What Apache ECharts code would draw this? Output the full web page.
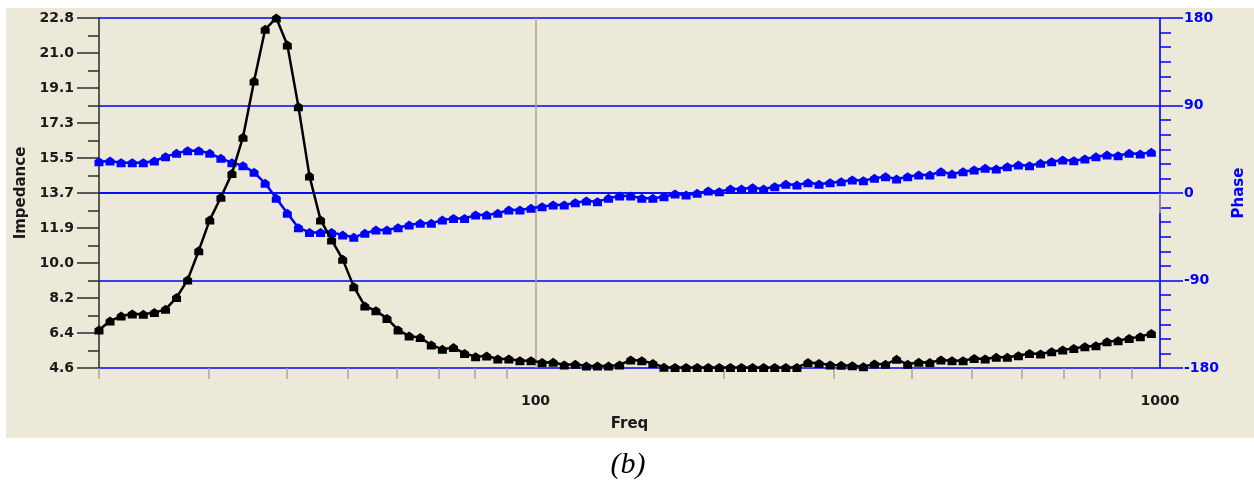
<!DOCTYPE html>
<html>
<head>
<meta charset="utf-8">
<script src="https://cdn.jsdelivr.net/npm/echarts@6/dist/echarts.min.js"></script>
<style>
html,body{margin:0;padding:0;background:#fff;}
#chart{width:1254px;height:483px;}
</style>
</head>
<body>
<div id="chart"></div>
<script>
// ---- data ----
const FREQ = [
  20.00, 20.83, 21.70, 22.61, 23.55, 24.53, 25.56, 26.62, 27.73, 28.89,
  30.09, 31.35, 32.65, 34.01, 35.43, 36.91, 38.45, 40.05, 41.72, 43.46,
  45.27, 47.15, 49.12, 51.17, 53.30, 55.52, 57.84, 60.25, 62.76, 65.38,
  68.10, 70.94, 73.90, 76.98, 80.19, 83.53, 87.02, 90.64, 94.42, 98.36,
  102.46, 106.73, 111.18, 115.81, 120.64, 125.67, 130.91, 136.37, 142.06, 147.98,
  154.15, 160.58, 167.27, 174.25, 181.51, 189.08, 196.96, 205.18, 213.73, 222.64,
  231.93, 241.60, 251.67, 262.17, 273.10, 284.48, 296.34, 308.70, 321.57, 334.98,
  348.95, 363.50, 378.65, 394.44, 410.89, 428.02, 445.87, 464.46, 483.83, 504.00,
  524.9, 546.8, 569.6, 593.3, 618.1, 643.8, 670.7, 698.6, 727.8, 758.1,
  789.7, 822.6, 856.9, 892.6, 929.9, 968.6
];
const IMPEDANCE = [
  6.58, 7.04, 7.30, 7.41, 7.39, 7.48, 7.65, 8.26, 9.18, 10.70,
  12.30, 13.48, 14.72, 16.60, 19.52, 22.21, 22.80, 21.40, 18.19, 14.58,
  12.30, 11.26, 10.25, 8.83, 7.82, 7.58, 7.18, 6.58, 6.26, 6.18,
  5.80, 5.57, 5.66, 5.36, 5.19, 5.22, 5.07, 5.07, 4.98, 4.98,
  4.89, 4.90, 4.76, 4.79, 4.70, 4.70, 4.70, 4.76, 5.02, 4.98,
  4.84, 4.64, 4.63, 4.63, 4.63, 4.63, 4.63, 4.63, 4.63, 4.63,
  4.63, 4.63, 4.63, 4.63, 4.88, 4.84, 4.76, 4.74, 4.72, 4.67,
  4.81, 4.79, 5.05, 4.79, 4.90, 4.88, 5.02, 4.98, 4.98, 5.10,
  5.07, 5.16, 5.16, 5.24, 5.36, 5.33, 5.45, 5.54, 5.62, 5.71,
  5.76, 5.97, 6.02, 6.14, 6.23, 6.40
];
const PHASE = [
  32.2, 32.9, 31.2, 31.2, 31.2, 32.9, 37.4, 40.8, 43.5, 43.5,
  40.8, 35.7, 31.2, 28.1, 21.3, 10.0, -5.5, -20.9, -35.7, -40.5,
  -40.5, -40.5, -43.2, -45.6, -41.5, -38.1, -38.1, -35.7, -32.9, -31.2,
  -31.2, -27.8, -26.1, -26.1, -22.6, -22.6, -20.9, -17.5, -17.5, -15.8,
  -14.1, -12.3, -12.3, -10.0, -8.2, -8.9, -5.5, -3.1, -3.1, -5.5,
  -5.5, -3.8, -1.0, -2.1, -0.3, 2.1, 1.4, 4.1, 4.1, 5.5,
  4.1, 6.5, 8.9, 8.2, 10.6, 8.9, 10.6, 11.6, 13.4, 12.7,
  15.1, 16.8, 14.4, 16.8, 18.5, 18.5, 21.9, 19.5, 21.9, 23.7,
  25.4, 24.7, 27.1, 28.8, 28.1, 30.5, 32.2, 33.9, 33.2, 35.0,
  37.3, 39.1, 38.4, 40.8, 40.1, 41.9
];
const IMP_MIN = 4.6, IMP_MAX = 22.8;
const IMP_TICK_LABELS = ["4.6","6.4","8.2","10.0","11.9","13.7","15.5","17.3","19.1","21.0","22.8"];
const PHASE_MIN = -180, PHASE_MAX = 180, PHASE_STEP = 90;
const FREQ_MIN = 20, FREQ_MAX = 1000;
const FREQ_MAJOR = [100, 1000];
const FREQ_MINOR = [20,30,40,50,60,70,80,90,200,300,400,500,600,700,800,900];

// ---- derived tick positions ----
const nImp = IMP_TICK_LABELS.length - 1;
const impMajor = IMP_TICK_LABELS.map((_, i) => Number((IMP_MIN + i * (IMP_MAX - IMP_MIN) / nImp).toFixed(4)));
const impMinor = [];
for (let i = 0; i < nImp; i++) impMinor.push(Number(((impMajor[i] + impMajor[i + 1]) / 2).toFixed(4)));

const BLUE = '#0000ff';
const FONT = 'DejaVu Sans';
const HOUSE = 'path://M0,3.5L5,0L10,3.5L10,10L0,10Z';

const chart = echarts.init(document.getElementById('chart'), null, {renderer: 'canvas'});
chart.setOption({
  backgroundColor: '#ffffff',
  animation: false,
  graphic: [
    {type: 'rect', z: -10, silent: true, shape: {x: 6, y: 8, width: 1248, height: 430}, style: {fill: '#ECE9D8'}},
    {type: 'text', silent: true, style: {text: '(b)', x: 628, y: 465, font: 'italic 30px "Liberation Serif"', textAlign: 'center', textVerticalAlign: 'middle', fill: '#000'}}
  ],
  grid: {left: 99, right: 94, top: 18, bottom: 115, containLabel: false, outerBoundsMode: 'none'},
  xAxis: [
    {
      type: 'log', logBase: 10, min: FREQ_MIN, max: FREQ_MAX, position: 'bottom',
      name: 'Freq', nameLocation: 'middle', nameGap: 49,
      nameTextStyle: {fontFamily: FONT, fontWeight: 'bold', fontSize: 15, color: '#1a1a1a'},
      axisLine: {show: true, lineStyle: {color: BLUE, width: 1.5}},
      axisTick: {show: true, customValues: FREQ_MAJOR, length: 20, lineStyle: {color: '#a8a59a', width: 1.5}},
      axisLabel: {show: true, customValues: FREQ_MAJOR, margin: 26, fontFamily: FONT, fontWeight: 'bold', fontSize: 14, color: '#1a1a1a', formatter: v => String(Math.round(v))},
      splitLine: {show: true, lineStyle: {color: '#a8a59a', width: 1.5}},
      minorTick: {show: false}, minorSplitLine: {show: false}
    },
    {
      type: 'log', logBase: 10, min: FREQ_MIN, max: FREQ_MAX, position: 'bottom',
      axisLine: {show: false},
      axisTick: {show: true, customValues: FREQ_MINOR, length: 11, lineStyle: {color: '#a8a59a', width: 1.5}},
      axisLabel: {show: false},
      splitLine: {show: false}
    }
  ],
  yAxis: [
    {
      type: 'value', position: 'left', min: IMP_MIN, max: IMP_MAX,
      name: 'Impedance', nameLocation: 'middle', nameGap: 69, nameRotate: 90,
      nameTextStyle: {fontFamily: FONT, fontWeight: 'bold', fontSize: 15, color: '#1a1a1a'},
      axisLine: {show: true, lineStyle: {color: '#2b2b2b', width: 1.5}},
      axisTick: {show: true, customValues: impMajor, length: 22, lineStyle: {color: '#2b2b2b', width: 1.5}},
      axisLabel: {
        show: true, customValues: impMajor, margin: 25, fontFamily: FONT, fontWeight: 'bold', fontSize: 14, color: '#1a1a1a',
        formatter: v => {
          let best = 0;
          impMajor.forEach((p, i) => { if (Math.abs(p - v) < Math.abs(impMajor[best] - v)) best = i; });
          return IMP_TICK_LABELS[best];
        }
      },
      splitLine: {show: false}
    },
    {
      type: 'value', position: 'left', min: IMP_MIN, max: IMP_MAX,
      axisLine: {show: false},
      axisTick: {show: true, customValues: impMinor, length: 11, lineStyle: {color: '#2b2b2b', width: 1.5}},
      axisLabel: {show: false},
      splitLine: {show: false}
    },
    {
      type: 'value', position: 'right', min: PHASE_MIN, max: PHASE_MAX, interval: PHASE_STEP,
      name: 'Phase', nameLocation: 'middle', nameGap: 72, nameRotate: 90,
      nameTextStyle: {fontFamily: FONT, fontWeight: 'bold', fontSize: 15, color: BLUE},
      axisLine: {show: true, lineStyle: {color: BLUE, width: 1.5}},
      axisTick: {show: true, length: 23, lineStyle: {color: BLUE, width: 1.5}},
      minorTick: {show: true, splitNumber: 6, length: 11, lineStyle: {color: BLUE, width: 1.5}},
      axisLabel: {show: true, margin: 24, fontFamily: FONT, fontWeight: 'bold', fontSize: 14, color: BLUE},
      splitLine: {show: true, lineStyle: {color: BLUE, width: 1.5}}
    }
  ],
  series: [
    {
      name: 'Phase', type: 'line', xAxisIndex: 0, yAxisIndex: 2,
      data: FREQ.map((f, i) => [f, PHASE[i]]),
      symbol: HOUSE, symbolSize: [9, 9], showAllSymbol: true,
      lineStyle: {color: BLUE, width: 2.5}, itemStyle: {color: BLUE},
      z: 3
    },
    {
      name: 'Impedance', type: 'line', xAxisIndex: 0, yAxisIndex: 0,
      data: FREQ.map((f, i) => [f, IMPEDANCE[i]]),
      symbol: HOUSE, symbolSize: [9, 9], showAllSymbol: true,
      lineStyle: {color: '#000', width: 2.5}, itemStyle: {color: '#000'},
      z: 4
    }
  ]
});
</script>
</body>
</html>
